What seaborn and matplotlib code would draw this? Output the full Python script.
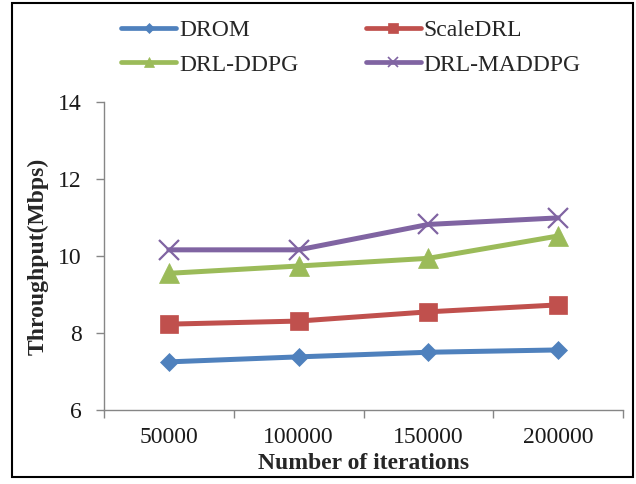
import matplotlib
matplotlib.use("Agg")
import matplotlib.pyplot as plt
import seaborn as sns
import pandas as pd
from matplotlib.lines import Line2D
from matplotlib.patches import Rectangle
from matplotlib.ticker import FixedLocator

iterations = ["50000", "100000", "150000", "200000"]
drom = [7.25, 7.38, 7.50, 7.56]
scaledrl = [8.23, 8.31, 8.55, 8.73]
drl_ddpg = [9.55, 9.74, 9.94, 10.52]
drl_maddpg = [10.16, 10.16, 10.82, 10.99]
series_names = ["DROM", "ScaleDRL", "DRL-DDPG", "DRL-MADDPG"]
legend_order = ["DROM", "DRL-DDPG", "ScaleDRL", "DRL-MADDPG"]
y_ticks = [6, 8, 10, 12, 14]

colors = {"DROM": "#4F81BD", "ScaleDRL": "#C0504D",
          "DRL-DDPG": "#9BBB59", "DRL-MADDPG": "#8064A2"}
markers = {"DROM": "D", "ScaleDRL": "s", "DRL-DDPG": "^", "DRL-MADDPG": "x"}
msizes = {"DROM": 9.5, "ScaleDRL": 12.5, "DRL-DDPG": 14, "DRL-MADDPG": 14}

data = {"DROM": drom, "ScaleDRL": scaledrl, "DRL-DDPG": drl_ddpg, "DRL-MADDPG": drl_maddpg}

sns.set_theme(style="white")
plt.rcParams["font.family"] = ["Liberation Serif", "DejaVu Serif"]

fig = plt.figure(figsize=(6.36, 4.84), dpi=100)
ax = fig.add_axes([104 / 636, 1 - 410 / 484, 519 / 636, 308 / 484])

handles = {}
for name in series_names:
    df = pd.DataFrame({"Iterations": iterations, "Throughput": data[name]})
    mew = 1.6 if name == "DRL-MADDPG" else 0.5
    sns.lineplot(data=df, x="Iterations", y="Throughput", color=colors[name],
                 marker=markers[name], markersize=msizes[name], markeredgewidth=mew,
                 markeredgecolor=colors[name], markerfacecolor=colors[name],
                 linewidth=3.6, solid_capstyle="round", sort=False, ax=ax)
    handles[name] = Line2D([], [], color=colors[name], lw=3.4, marker=markers[name],
                           markersize=msizes[name] * 0.55,
                           markeredgewidth=1.2 if name == "DRL-MADDPG" else 0.5,
                           markerfacecolor=colors[name], markeredgecolor=colors[name],
                           solid_capstyle="round", label=name)

ax.set_xlim(-0.5, 3.5)
ax.set_ylim(6, 14)
ax.set_yticks(y_ticks)
ax.set_xticks(range(len(iterations)))
ax.set_xticklabels(iterations)
ax.xaxis.set_minor_locator(FixedLocator([-0.5, 0.5, 1.5, 2.5, 3.5]))

for s in ["top", "right"]:
    ax.spines[s].set_visible(False)
for s in ["left", "bottom"]:
    ax.spines[s].set_color("#868686")
    ax.spines[s].set_linewidth(1.0)

ax.tick_params(axis="x", which="major", length=0, labelsize=17, pad=12, colors="#1a1a1a")
ax.tick_params(axis="x", which="minor", length=6, width=1.0, color="#868686", direction="out",
               bottom=True)
ax.tick_params(axis="y", length=6, width=1.0, color="#868686", direction="out",
               labelsize=17, pad=10, labelcolor="#1a1a1a", left=True)

ax.set_xlabel("Number of iterations", fontsize=17, fontweight="bold", labelpad=4)
ax.set_ylabel("Throughput(Mbps)", fontsize=17, fontweight="bold", labelpad=7)
ax.grid(False)

fig.legend(handles=[handles[n] for n in legend_order], loc="center",
           bbox_to_anchor=(351 / 636, 1 - 47.5 / 484),
           ncol=2, frameon=False, fontsize=17, handlelength=2.33, handletextpad=0.13,
           columnspacing=2.85, labelspacing=0.55, borderpad=0)

fig.patches.append(Rectangle((12 / 636, 1 - 477 / 484), 621 / 636, 474 / 484,
                             transform=fig.transFigure, fill=False, edgecolor="black",
                             linewidth=1.5))

fig.savefig("out.png", dpi=100)
